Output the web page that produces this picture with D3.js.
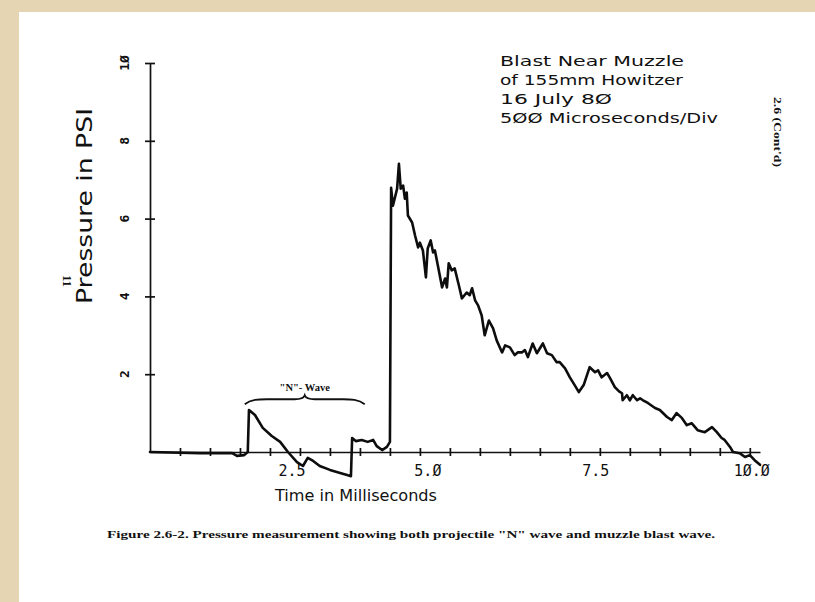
<!DOCTYPE html>
<html>
<head>
<meta charset="utf-8">
<script src="https://cdn.jsdelivr.net/npm/d3@7"></script>
<style>
  body { margin: 0; background: #e5d5b3; }
  svg { display: block; }
</style>
</head>
<body>
<svg id="chart" width="815" height="602"></svg>
<script>
// Pressure record: time (ms) and overpressure (psi)
const timeMs = [
  0, 0.83, 1.37, 1.45, 1.57, 1.63, 1.65, 1.75, 1.88, 2.03, 2.17, 2.30, 2.45, 2.55, 2.63, 2.72,
  2.83, 3.00, 3.17, 3.30, 3.35, 3.37, 3.43, 3.53, 3.63, 3.72, 3.78, 3.87, 3.95, 4.00, 4.02,
  4.05, 4.12, 4.15, 4.18, 4.22, 4.25, 4.28, 4.30, 4.37, 4.42, 4.47, 4.50, 4.55, 4.60, 4.63,
  4.68, 4.72, 4.75, 4.80, 4.87, 4.92, 4.95, 4.98, 5.03, 5.08, 5.15, 5.20, 5.28, 5.33, 5.37,
  5.42, 5.47, 5.53, 5.58, 5.65, 5.72, 5.78, 5.87, 5.92, 6.00, 6.08, 6.13, 6.20, 6.25, 6.30,
  6.38, 6.45, 6.55, 6.62, 6.70, 6.78, 6.83, 6.92, 7.00, 7.08, 7.15, 7.23, 7.33, 7.42, 7.47,
  7.53, 7.62, 7.67, 7.75, 7.82, 7.87, 7.88, 7.95, 8.00, 8.05, 8.12, 8.17, 8.22, 8.30, 8.42,
  8.50, 8.62, 8.70, 8.78, 8.87, 8.95, 9.03, 9.13, 9.25, 9.37, 9.45, 9.53, 9.58, 9.67, 9.72,
  9.83, 9.92, 10.00, 10.08, 10.17
];
const pressurePsi = [
  0, -0.03, -0.03, -0.10, -0.08, 0, 1.08, 0.95, 0.62, 0.41, 0.26, 0, -0.26, -0.36, -0.15, -0.23,
  -0.36, -0.46, -0.54, -0.60, -0.62, 0.36, 0.28, 0.31, 0.26, 0.31, 0.15, 0.05, 0.13, 0.26, 6.79,
  6.33, 6.77, 7.41, 6.77, 6.85, 6.51, 6.67, 6.08, 5.90, 5.56, 5.26, 5.38, 5.18, 4.49, 5.23,
  5.44, 5.13, 5.18, 4.79, 4.23, 4.46, 4.23, 4.85, 4.67, 4.72, 4.28, 3.95, 4.10, 4.03, 4.21,
  3.90, 3.77, 3.51, 3.00, 3.38, 3.18, 2.87, 2.56, 2.74, 2.69, 2.49, 2.56, 2.56, 2.62, 2.44,
  2.79, 2.54, 2.79, 2.54, 2.49, 2.31, 2.31, 2.15, 1.92, 1.72, 1.54, 1.72, 2.18, 2.05, 2.10,
  1.92, 2.03, 1.90, 1.67, 1.56, 1.51, 1.33, 1.46, 1.33, 1.46, 1.33, 1.38, 1.33, 1.26, 1.13,
  1.08, 0.90, 0.82, 1.00, 0.87, 0.69, 0.74, 0.56, 0.51, 0.64, 0.51, 0.36, 0.31, 0.13, 0,
  -0.03, -0.13, -0.08, -0.21, -0.33
];

// Axis ticks and labels
const yTickValues = [2, 4, 6, 8, 10];
const xTickValues = [0.5, 1, 1.5, 2, 2.5, 3, 3.5, 4, 4.5, 5, 5.5, 6, 6.5, 7, 7.5, 8, 8.5, 9, 9.5, 10];
const xLabelValues = [2.5, 5, 7.5, 10];
const infoLines = ["Blast Near Muzzle", "of 155mm Howitzer", "16 July 8Ø", "5ØØ Microseconds/Div"];

const ink = "#111";
const slashZero = s => s.replace(/0/g, "Ø");
// the plotter set its axis numbers slightly off the tick marks
const labelNudge = { 2.5: -8, 5: -22, 7.5: -4, 10: 2 };

const svg = d3.select("#chart");

// paper sheet
svg.append("rect").attr("x", 19).attr("y", 12).attr("width", 796).attr("height", 590).attr("fill", "#ffffff");

const x = d3.scaleLinear().domain([0, 10.17]).range([150, 760]);
const y = d3.scaleLinear().domain([0, 10]).range([452, 63]);

// X axis: line with crossing tick marks
const xAxis = svg.append("g")
  .attr("transform", `translate(0,${y(0)})`)
  .call(d3.axisBottom(x).tickValues(xTickValues).tickSizeOuter(0).tickFormat(""));
xAxis.select(".domain").attr("stroke", ink).attr("stroke-width", 1.7);
xAxis.selectAll(".tick line").attr("y1", -4).attr("y2", 4).attr("stroke", ink).attr("stroke-width", 1.7);

// Y axis
const yAxis = svg.append("g")
  .attr("transform", `translate(${x(0)},0)`)
  .call(d3.axisLeft(y).tickValues(yTickValues).tickSizeOuter(0).tickFormat(""));
yAxis.select(".domain").attr("stroke", ink).attr("stroke-width", 1.7);
yAxis.selectAll(".tick line").attr("x1", -5).attr("x2", 5).attr("stroke", ink).attr("stroke-width", 1.7);

// Y tick labels, rotated
svg.append("g").selectAll("text").data(yTickValues).join("text")
  .attr("transform", d => `translate(124,${y(d)}) rotate(-90)`)
  .attr("text-anchor", "middle").attr("dominant-baseline", "central")
  .attr("font-family", "DejaVu Sans Mono").attr("font-weight", "bold").attr("font-size", 13)
  .attr("fill", ink)
  .text(d => slashZero(String(d)));

// X tick labels
svg.append("g").selectAll("text").data(xLabelValues).join("text")
  .attr("x", d => x(d) + labelNudge[d]).attr("y", 476)
  .attr("text-anchor", "middle")
  .attr("font-family", "DejaVu Sans Mono").attr("font-size", 15)
  .attr("fill", ink)
  .text(d => slashZero(d.toFixed(1)));

// Axis titles
svg.append("text")
  .attr("transform", "translate(92,206) rotate(-90)")
  .attr("text-anchor", "middle")
  .attr("font-family", "DejaVu Sans").attr("font-size", 21)
  .attr("textLength", 196).attr("lengthAdjust", "spacingAndGlyphs")
  .attr("fill", ink).text("Pressure in PSI");

svg.append("text")
  .attr("x", 356).attr("y", 501)
  .attr("text-anchor", "middle")
  .attr("font-family", "DejaVu Sans").attr("font-size", 16)
  .attr("textLength", 162).attr("lengthAdjust", "spacingAndGlyphs")
  .attr("fill", ink).text("Time in Milliseconds");

// Record description
const infoLengths = [184, 183, 112, 218];
svg.append("g").selectAll("text").data(infoLines).join("text")
  .attr("x", 500).attr("y", (d, i) => 66 + i * 19)
  .attr("font-family", "DejaVu Sans").attr("font-size", 14.5)
  .attr("textLength", (d, i) => infoLengths[i]).attr("lengthAdjust", "spacingAndGlyphs")
  .attr("fill", ink).text(d => d);

// Page reference in the margin
svg.append("text")
  .attr("transform", "translate(774,132) rotate(90)")
  .attr("text-anchor", "middle")
  .attr("font-family", "Liberation Serif").attr("font-weight", "bold").attr("font-size", 10)
  .attr("textLength", 70).attr("lengthAdjust", "spacingAndGlyphs")
  .attr("fill", ink).text("2.6 (Cont'd)");

svg.append("text")
  .attr("transform", "translate(63,281) rotate(90)")
  .attr("text-anchor", "middle")
  .attr("font-family", "Liberation Serif").attr("font-weight", "bold").attr("font-size", 12)
  .attr("fill", ink).text("11");

// Brace over the N-wave and its label
const braceL = x(1.58), braceR = x(3.58), braceM = (braceL + braceR) / 2, braceY = y(1.33);
svg.append("path")
  .attr("d", `M${braceL},${braceY + 4} C${braceL + 6},${braceY - 1} ${braceL + 14},${braceY - 1} ${braceL + 22},${braceY - 1}
              L${braceM - 10},${braceY - 1} C${braceM - 4},${braceY - 1} ${braceM - 1},${braceY - 2} ${braceM},${braceY - 5}
              C${braceM + 1},${braceY - 2} ${braceM + 4},${braceY - 1} ${braceM + 10},${braceY - 1}
              L${braceR - 22},${braceY - 1} C${braceR - 14},${braceY - 1} ${braceR - 6},${braceY - 1} ${braceR},${braceY + 4}`)
  .attr("fill", "none").attr("stroke", ink).attr("stroke-width", 1.8);

svg.append("text")
  .attr("x", braceM).attr("y", 391)
  .attr("text-anchor", "middle")
  .attr("font-family", "Liberation Serif").attr("font-weight", "bold").attr("font-size", 10.5)
  .attr("fill", ink).text("\"N\"- Wave");

// Pressure trace
const line = d3.line().x((d, i) => x(timeMs[i])).y(d => y(d));
svg.append("path")
  .datum(pressurePsi)
  .attr("d", line)
  .attr("fill", "none").attr("stroke", "#0d0d0d").attr("stroke-width", 2.6)
  .attr("stroke-linejoin", "round").attr("stroke-linecap", "round");

// Figure caption
svg.append("text")
  .attr("x", 107).attr("y", 538)
  .attr("font-family", "Liberation Serif").attr("font-weight", "bold").attr("font-size", 10.5)
  .attr("textLength", 608).attr("lengthAdjust", "spacingAndGlyphs")
  .attr("fill", ink)
  .text("Figure 2.6-2.  Pressure measurement showing both projectile \"N\" wave and muzzle blast wave.");
</script>
</body>
</html>
